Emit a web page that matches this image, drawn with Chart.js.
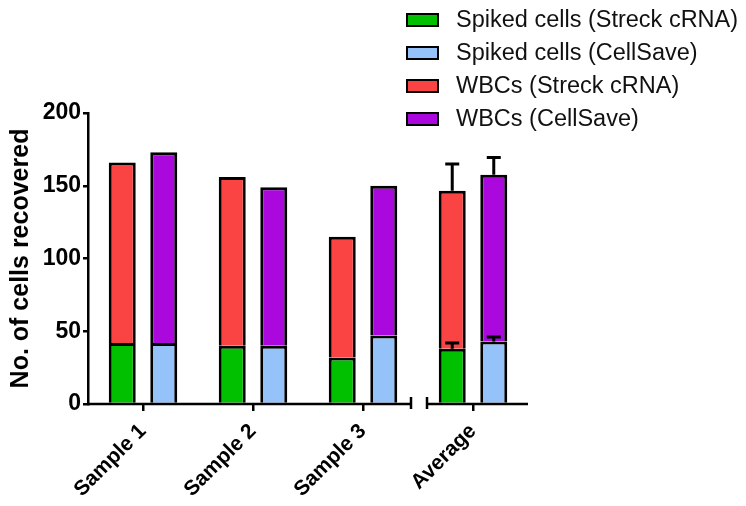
<!DOCTYPE html>
<html><head><meta charset="utf-8">
<script src="https://cdn.jsdelivr.net/npm/chart.js@4.4.0/dist/chart.umd.min.js"></script>
<style>
html,body{margin:0;padding:0;background:#fff;}
#wrap{position:relative;width:746px;height:506px;}
#legend{position:absolute;left:406px;top:3px;font-family:"Liberation Sans",Arial,sans-serif;font-size:23.5px;color:#111;}
.row{display:flex;align-items:center;height:33px;white-space:nowrap;}
.box{width:29px;height:10px;border:2.5px solid #000;margin-right:17px;box-sizing:content-box;flex:none;}
</style>
</head><body>
<div id="wrap">
<canvas id="c" width="746" height="506"></canvas>
<div id="legend"></div>
</div>
<script>
const categories = ['Sample 1', 'Sample 2', 'Sample 3', 'Average'];
const spikedStreck = [42, 40, 32, 38];
const spikedCellSave = [42, 40, 47, 43];
const wbcStreck = [124, 116, 83, 108.5];
const wbcCellSave = [131, 109, 103, 114.5];
const spikedStreckErr = [0, 0, 0, 4];
const spikedCellSaveErr = [0, 0, 0, 3];
const wbcStreckErr = [0, 0, 0, 18.5];
const wbcCellSaveErr = [0, 0, 0, 12];
const yTicks = [0, 50, 100, 150, 200];
const yTitle = 'No. of cells recovered';

const FONT = '"Liberation Sans", Arial, sans-serif';

const datasets = [
  {label: 'Spiked cells (Streck cRNA)', data: spikedStreck, errors: spikedStreckErr, stack: 's', backgroundColor: '#00c000'},
  {label: 'Spiked cells (CellSave)', data: spikedCellSave, errors: spikedCellSaveErr, stack: 'c', backgroundColor: '#95c2f8'},
  {label: 'WBCs (Streck cRNA)', data: wbcStreck, errors: wbcStreckErr, stack: 's', backgroundColor: '#fa4343'},
  {label: 'WBCs (CellSave)', data: wbcCellSave, errors: wbcCellSaveErr, stack: 'c', backgroundColor: '#aa08dd'}
].map(d => Object.assign(d, {borderColor: '#000', borderWidth: 3, borderSkipped: 'start', categoryPercentage: 0.755, barPercentage: 0.65}));

const errorBars = {
  id: 'errorBars',
  afterDatasetsDraw(chart) {
    const ctx = chart.ctx, y = chart.scales.y;
    ctx.save();
    ctx.strokeStyle = '#000';
    ctx.lineWidth = 3;
    chart.data.datasets.forEach((ds, i) => {
      const meta = chart.getDatasetMeta(i);
      meta.data.forEach((bar, j) => {
        const e = ds.errors[j];
        if (!e) return;
        const topVal = y.getValueForPixel(bar.y);
        const ey = y.getPixelForValue(topVal + e);
        ctx.beginPath();
        ctx.moveTo(bar.x, bar.y);
        ctx.lineTo(bar.x, ey);
        ctx.moveTo(bar.x - 7, ey);
        ctx.lineTo(bar.x + 7, ey);
        ctx.stroke();
      });
    });
    ctx.restore();
  },
  afterDraw(chart) {
    const ctx = chart.ctx, a = chart.chartArea, x = chart.scales.x;
    const bx = (x.getPixelForTick(2) + x.getPixelForTick(3)) / 2 + 1;
    const gap = 8;
    ctx.save();
    ctx.strokeStyle = '#000';
    ctx.lineWidth = 2.5;
    ctx.beginPath();
    ctx.moveTo(a.left - 1, a.bottom); ctx.lineTo(bx - gap, a.bottom);
    ctx.moveTo(bx + gap, a.bottom); ctx.lineTo(a.right, a.bottom);
    ctx.moveTo(bx - gap, a.bottom - 7); ctx.lineTo(bx - gap, a.bottom + 5);
    ctx.moveTo(bx + gap, a.bottom - 7); ctx.lineTo(bx + gap, a.bottom + 5);
    ctx.stroke();
    ctx.restore();
  }
};

const chart = new Chart(document.getElementById('c'), {
  type: 'bar',
  data: {labels: categories, datasets},
  plugins: [errorBars],
  options: {
    responsive: false,
    animation: false,
    layout: {padding: {left: 0, top: 113, right: 218, bottom: 0}},
    plugins: {legend: {display: false}, tooltip: {enabled: false}},
    scales: {
      x: {
        stacked: true,
        offset: true,
        afterFit(s) { s.height = 102; },
        grid: {offset: false, drawOnChartArea: false, drawTicks: true, tickLength: 7, color: '#000', lineWidth: 2.5},
        border: {display: false},
        ticks: {maxRotation: 45, minRotation: 45, padding: 8, color: '#000', font: {family: FONT, size: 21, weight: 'bold'}}
      },
      y: {
        stacked: true,
        min: 0, max: 200,
        afterFit(s) { s.width = 88; },
        afterBuildTicks(s) { s.ticks = yTicks.map(v => ({value: v})); },
        grid: {drawOnChartArea: false, drawTicks: true, tickLength: 5, color: '#000', lineWidth: 2.5},
        border: {display: true, color: '#000', width: 2.5},
        ticks: {padding: 2, color: '#000', font: {family: FONT, size: 23, weight: 'bold'}},
        title: {display: true, text: yTitle, color: '#000', padding: {top: 6, bottom: 0}, font: {family: FONT, size: 25, weight: 'bold'}}
      }
    }
  }
});

const leg = document.getElementById('legend');
datasets.forEach(d => {
  const r = document.createElement('div'); r.className = 'row';
  const b = document.createElement('span'); b.className = 'box'; b.style.background = d.backgroundColor;
  const t = document.createElement('span'); t.textContent = d.label;
  r.appendChild(b); r.appendChild(t); leg.appendChild(r);
});
</script>
</body></html>
